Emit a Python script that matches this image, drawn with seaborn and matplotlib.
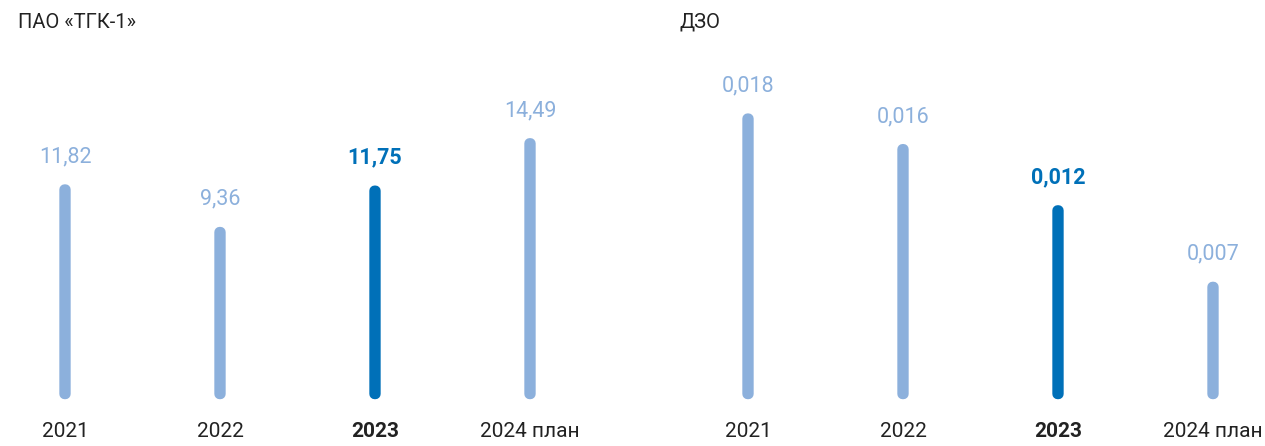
import matplotlib
matplotlib.use('Agg')
import matplotlib.pyplot as plt
import seaborn as sns
import pandas as pd

# данные
years = ['2021', '2022', '2023', '2024 план']
tgk_values = [11.82, 9.36, 11.75, 14.49]
tgk_labels = ['11,82', '9,36', '11,75', '14,49']
dzo_values = [0.018, 0.016, 0.012, 0.007]
dzo_labels = ['0,018', '0,016', '0,012', '0,007']
current_year = '2023'

light = '#8cb0dc'
dark = '#0070b8'
text_col = '#222222'

sns.set_theme(style='white')
plt.rcParams['font.family'] = ['Roboto', 'DejaVu Sans']

W, H = 1265, 446
fig = plt.figure(figsize=(W / 100, H / 100), dpi=100)

step = 155  # px между столбцами
bottom_px = 52


def panel(left_px, right_px, values, labels, top_val):
    ax = fig.add_axes([left_px / W, bottom_px / H, (right_px - left_px) / W, (H - bottom_px) / H])
    df = pd.DataFrame({'year': years, 'value': values})
    colors = [dark if y == current_year else light for y in years]
    sns.barplot(data=df, x='year', y='value', hue='year', palette=colors,
                width=0.006, legend=False, ax=ax, linewidth=0)
    # скруглённые концы
    for p, c in zip(ax.patches, colors):
        p.set_edgecolor(c)
        p.set_linewidth(7.5)
        p.set_joinstyle('round')
        p.set_snap(False)
        p.set_clip_on(False)
    x0 = -65 / step
    ax.set_xlim(x0, x0 + (right_px - left_px) / step)
    ax.set_ylim(0, top_val)
    for i, (v, lab, y) in enumerate(zip(values, labels, years)):
        bold = y == current_year
        ax.annotate(lab, (i, v), xytext=(0, 16), textcoords='offset points',
                    ha='center', va='bottom', fontsize=15.5,
                    color=dark if bold else light,
                    fontweight='bold' if bold else 'normal')
    ax.set_xticks(range(len(years)))
    ax.set_xticklabels(years, fontsize=15, color=text_col)
    for t in ax.get_xticklabels():
        if t.get_text() == current_year:
            t.set_fontweight('bold')
    ax.tick_params(axis='x', length=0, pad=20)
    ax.set_yticks([])
    ax.set_xlabel('')
    ax.set_ylabel('')
    sns.despine(ax=ax, left=True, bottom=True)
    return ax


panel(0, 620, tgk_values, tgk_labels, (H - bottom_px) / 17.3)
panel(683, 1265, dzo_values, dzo_labels, (H - bottom_px) / 15300)

fig.text(18 / W, 1 - 22 / H, 'ПАО «ТГК-1»', fontsize=14.5, color=text_col, va='center', ha='left')
fig.text(680 / W, 1 - 22 / H, 'ДЗО', fontsize=14.5, color=text_col, va='center', ha='left')

fig.savefig('out.png', dpi=100)
